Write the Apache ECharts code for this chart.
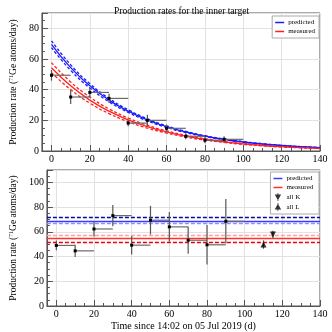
<!DOCTYPE html>
<html>
<head>
<meta charset="utf-8">
<script src="https://cdn.jsdelivr.net/npm/echarts@6/dist/echarts.min.js"></script>
<style>
  html, body { margin: 0; padding: 0; background: #fff; }
  #chart { width: 332px; height: 332px; }
</style>
</head>
<body>
<div id="chart"></div>
<script>
// time bins (days), each bin is binWidth long
const binStart = [0, 10, 20, 30, 40, 50, 60, 70, 80, 90]
const binWidth = 10

// top panel: measured rates per bin
const topRate = [49.4, 35.2, 38.2, 34.3, 18.2, 20.0, 14.8, 9.6, 7.0, 7.6]
const topErr = [3.5, 4.5, 3.0, 3.0, 2.0, 3.7, 2.5, 2.0, 2.0, 2.0]

// top panel: decay curves
const curveX = [0, 10, 20, 30, 40, 50, 60, 70, 80, 90, 100, 110, 120, 130, 140]
const predMid = [69.6, 54.4, 42.5, 33.2, 26.0, 20.3, 15.9, 12.4, 9.7, 7.6, 5.9, 4.6, 3.6, 2.8, 2.2]
const predHigh = [71.9, 56.2, 43.9, 34.3, 26.9, 21.0, 16.4, 12.8, 10.0, 7.9, 6.1, 4.8, 3.7, 2.9, 2.3]
const predLow = [67.4, 52.6, 41.1, 32.1, 25.2, 19.6, 15.4, 12.0, 9.4, 7.4, 5.7, 4.5, 3.5, 2.7, 2.1]
const measMid = [54.3, 42.5, 33.2, 26.0, 20.3, 15.9, 12.4, 9.7, 7.6, 5.9, 4.6, 3.6, 2.8, 2.2, 1.7]
const measHigh = [57.6, 45.0, 35.2, 27.5, 21.5, 16.8, 13.1, 10.3, 8.0, 6.3, 4.9, 3.8, 3.0, 2.3, 1.8]
const measLow = [51.1, 40.0, 31.2, 24.4, 19.1, 14.9, 11.7, 9.1, 7.1, 5.6, 4.3, 3.4, 2.6, 2.1, 1.6]

// bottom panel: corrected rates per bin
const botRate = [49.0, 44.6, 62.3, 73.1, 49.2, 69.4, 64.0, 53.2, 49.5, 68.5]
const botErr = [4.0, 5.0, 6.0, 8.5, 7.5, 11.6, 12.0, 11.0, 16.0, 18.0]

// bottom panel: constant levels
const predLevel = [67.2, 68.8, 71.5] // low, mid, high
const measLevel = [51.6, 54.6, 57.4]

// all K / all L
const allK = [115, 57.8, 3.0]
const allL = [110, 49.7, 3.4]

const font = 'Liberation Serif'

function zip(xs, ys) {
  return xs.map((x, i) => [x, ys[i]])
}

function errorBarItem(params, api) {
  const x = api.value(0)
  const y = api.value(1)
  const e = api.value(2)
  const w = api.value(3)
  const lo = api.coord([x, y - e])
  const hi = api.coord([x, y + e])
  const c = api.coord([x, y])
  const r = api.coord([x + w, y])
  const children = [
    { type: 'line', shape: { x1: lo[0], y1: lo[1], x2: hi[0], y2: hi[1] }, style: { stroke: '#555', lineWidth: 1.2 } }
  ]
  if (w > 0) {
    children.push({ type: 'line', shape: { x1: c[0], y1: c[1], x2: r[0], y2: r[1] }, style: { stroke: '#6a6a6a', lineWidth: 1.2 } })
    children.push({ type: 'rect', shape: { x: c[0] - 1.5, y: c[1] - 1.5, width: 3, height: 3 }, style: { fill: '#000' } })
  }
  return { type: 'group', children: children }
}

function xAxisFor(gridIndex, withName) {
  return {
    type: 'value',
    gridIndex: gridIndex,
    min: -5,
    max: 140,
    minInterval: 20,
    maxInterval: 20,
    name: withName ? 'Time since 14:02 on 05 Jul 2019 (d)' : '',
    nameLocation: 'middle',
    nameGap: 15,
    nameTextStyle: { fontFamily: font, fontSize: 10, color: '#000' },
    axisLine: { onZero: false, lineStyle: { color: '#555', width: 1 } },
    axisTick: { inside: true, length: 6, lineStyle: { color: '#555' } },
    minorTick: { show: true, splitNumber: 4, length: 3, lineStyle: { color: '#555' } },
    axisLabel: { fontFamily: font, fontSize: 10, color: '#000', margin: 3, showMinLabel: false },
    splitLine: { show: true, lineStyle: { color: '#e2e2e2' } }
  }
}

function yAxisFor(gridIndex, max) {
  return {
    type: 'value',
    gridIndex: gridIndex,
    min: 0,
    max: max,
    interval: 20,
    name: '{n|Production rate (}{s|71}{n|Ge atoms/day)}',
    nameLocation: 'middle',
    nameGap: 20,
    nameTextStyle: {
      rich: {
        n: { fontFamily: font, fontSize: 9.5, color: '#000' },
        s: { fontFamily: font, fontSize: 6, color: '#000', verticalAlign: 'top', padding: [0, 0, 4, 0] }
      }
    },
    axisLine: { onZero: false, lineStyle: { color: '#555', width: 1 } },
    axisTick: { inside: true, length: 6, lineStyle: { color: '#555' } },
    minorTick: { show: true, splitNumber: 4, length: 3, lineStyle: { color: '#555' } },
    axisLabel: { fontFamily: font, fontSize: 10, color: '#000', margin: 3, showMaxLabel: false },
    splitLine: { show: true, lineStyle: { color: '#e2e2e2' } }
  }
}

function curve(name, data, color, dashed, width) {
  return {
    name: name,
    type: 'line',
    xAxisIndex: 0,
    yAxisIndex: 0,
    data: data,
    smooth: true,
    showSymbol: false,
    silent: true,
    z: dashed ? 3 : 4,
    lineStyle: { color: color, width: width || 1.3, type: dashed ? [3, 2] : 'solid' },
    itemStyle: { color: color }
  }
}

function level(name, value, color, dashed) {
  return {
    name: name,
    type: 'line',
    xAxisIndex: 1,
    yAxisIndex: 1,
    data: [],
    itemStyle: { color: color },
    lineStyle: { color: color },
    markLine: {
      silent: true,
      symbol: 'none',
      label: { show: false },
      lineStyle: { color: color, width: 1.3, type: dashed ? [4, 2] : 'solid' },
      data: [{ yAxis: value }]
    }
  }
}

const chart = echarts.init(document.getElementById('chart'))

const legendText = { fontFamily: font, fontSize: 7, color: '#000', padding: [0, 0, 0, -1] }
const lineIcon = 'path://M0,4L12,4L12,6L0,6Z'

const option = {
  animation: false,
  title: {
    text: 'Production rates for the inner target',
    left: 109,
    top: 1,
    textStyle: { fontFamily: font, fontSize: 9.5, fontWeight: 'normal', color: '#000' }
  },
  legend: [
    {
      orient: 'vertical',
      right: 13,
      top: 16,
      itemWidth: 9,
      itemHeight: 8,
      itemGap: 2,
      padding: [3, 4, 3, 3],
      borderColor: '#aaa',
      borderWidth: 1,
      borderRadius: 0,
      backgroundColor: '#fff',
      textStyle: legendText,
      data: [
        { name: 'predicted', icon: lineIcon },
        { name: 'measured', icon: lineIcon }
      ]
    },
    {
      orient: 'vertical',
      right: 13,
      top: 172,
      itemWidth: 9,
      itemHeight: 8,
      itemGap: 2,
      padding: [3, 4, 3, 3],
      borderColor: '#aaa',
      borderWidth: 1,
      backgroundColor: '#fff',
      textStyle: legendText,
      data: [
        { name: 'predicted ', icon: lineIcon },
        { name: 'measured ', icon: lineIcon },
        { name: 'all K', icon: 'path://M5.5,0L6.5,0L6.5,2L10,2L6.5,8L6.5,10L5.5,10L5.5,8L2,2L5.5,2Z' },
        { name: 'all L', icon: 'path://M5.5,0L6.5,0L6.5,2L10,8L6.5,8L6.5,10L5.5,10L5.5,8L2,8L5.5,2Z' }
      ]
    }
  ],
  grid: [
    { left: 32, right: 12, top: 13, height: 138, show: true, borderColor: '#555', borderWidth: 1 },
    { left: 32, right: 12, top: 170, height: 136, show: true, borderColor: '#555', borderWidth: 1 }
  ],
  xAxis: [xAxisFor(0, false), xAxisFor(1, true)],
  yAxis: [yAxisFor(0, 90), yAxisFor(1, 110)],
  series: [
    curve('predicted-hi', zip(curveX, predHigh), '#1a1aff', true),
    curve('predicted-lo', zip(curveX, predLow), '#1a1aff', true),
    curve('predicted', zip(curveX, predMid), '#1a1aff', false),
    curve('measured-hi', zip(curveX, measHigh), '#ff2020', true),
    curve('measured-lo', zip(curveX, measLow), '#ff2020', true),
    curve('measured', zip(curveX, measMid), '#ff2020', false),
    {
      type: 'custom',
      xAxisIndex: 0,
      yAxisIndex: 0,
      renderItem: errorBarItem,
      encode: { x: 0, y: 1 },
      z: 10,
      data: binStart.map((x, i) => [x, topRate[i], topErr[i], binWidth])
    },
    level('predicted-hi2', predLevel[2], '#0a0a9a', true),
    level('predicted ', predLevel[1], '#3a3aff', false),
    level('predicted-lo2', predLevel[0], '#8f8fff', true),
    level('measured-hi2', measLevel[2], '#ffa0a0', true),
    level('measured ', measLevel[1], '#ff3030', false),
    level('measured-lo2', measLevel[0], '#ee0000', true),
    {
      type: 'custom',
      xAxisIndex: 1,
      yAxisIndex: 1,
      renderItem: errorBarItem,
      encode: { x: 0, y: 1 },
      z: 10,
      data: binStart.map((x, i) => [x, botRate[i], botErr[i], binWidth])
        .concat([[allK[0], allK[1], allK[2], 0], [allL[0], allL[1], allL[2], 0]])
    },
    {
      name: 'all K',
      type: 'scatter',
      xAxisIndex: 1,
      yAxisIndex: 1,
      symbol: 'triangle',
      symbolRotate: 180,
      symbolSize: 6,
      z: 11,
      itemStyle: { color: '#000' },
      data: [[allK[0], allK[1]]]
    },
    {
      name: 'all L',
      type: 'scatter',
      xAxisIndex: 1,
      yAxisIndex: 1,
      symbol: 'triangle',
      symbolSize: 6,
      z: 11,
      itemStyle: { color: '#000' },
      data: [[allL[0], allL[1]]]
    }
  ]
}

chart.setOption(option)
</script>
</body>
</html>
